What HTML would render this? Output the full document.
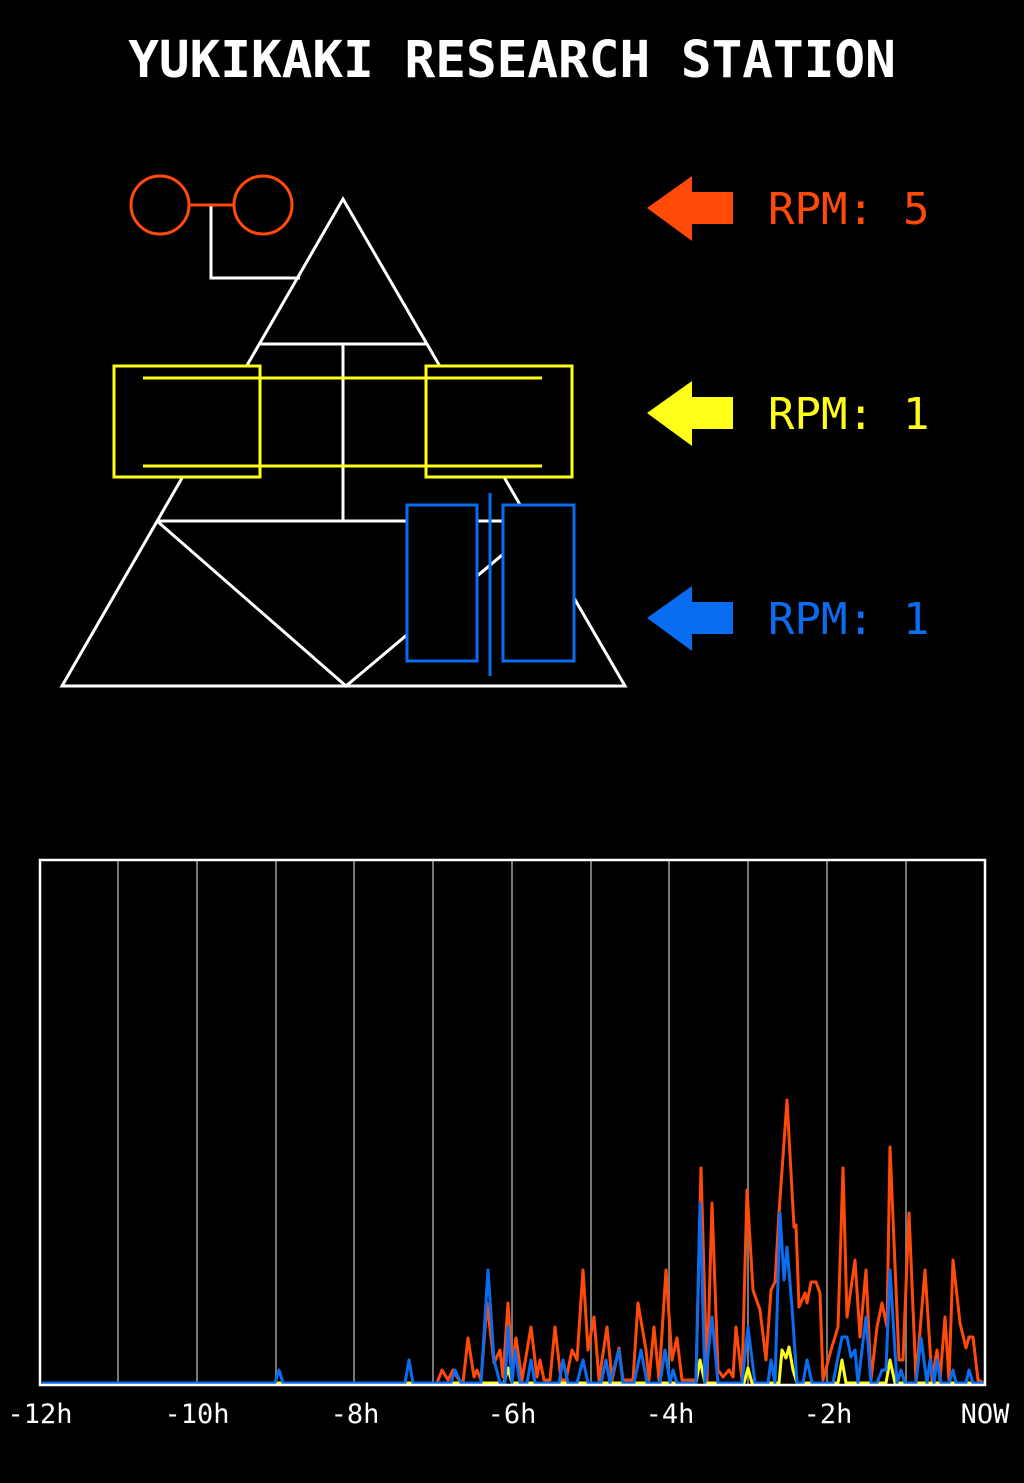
<!DOCTYPE html>
<html><head><meta charset="utf-8"><style>
html,body{margin:0;padding:0;background:#000;}
body{width:1024px;height:1483px;overflow:hidden;}
svg{display:block}
</style></head><body>
<svg width="1024" height="1483" viewBox="0 0 1024 1483" xmlns="http://www.w3.org/2000/svg">
<rect width="1024" height="1483" fill="#000"/>
<text x="512" y="77" fill="#fff" font-family="DejaVu Sans Mono, Liberation Mono, monospace" font-weight="bold" font-size="51" text-anchor="middle">YUKIKAKI RESEARCH STATION</text>

<g stroke="#fff" stroke-width="3" fill="none">
<polygon points="343,199 62,686 625,686"/>
<line x1="259" y1="344" x2="427" y2="344"/>
<line x1="343" y1="344" x2="343" y2="521"/>
<line x1="157" y1="521" x2="530" y2="521"/>
<polyline points="157,521 346,686 520,540"/>
<polyline points="211,205 211,278 300,278"/>
</g>
<g stroke="#ff4a0a" stroke-width="3" fill="none">
<circle cx="160" cy="205" r="29"/>
<circle cx="263" cy="205" r="29"/>
<line x1="189" y1="205" x2="234" y2="205"/>
</g>
<g stroke="#ffff1a" stroke-width="3">
<rect x="114" y="366" width="146" height="111" fill="#000"/>
<rect x="426" y="366" width="146" height="111" fill="#000"/>
</g>
<line x1="343" y1="366" x2="343" y2="477" stroke="#fff" stroke-width="3"/>
<g stroke="#ffff1a" stroke-width="3">
<line x1="143" y1="378" x2="542" y2="378"/>
<line x1="143" y1="466" x2="542" y2="466"/>
</g>
<g stroke="#0a6cf0" stroke-width="3">
<rect x="407" y="505" width="70" height="156" fill="#000"/>
<rect x="503" y="505" width="71" height="156" fill="#000"/>
<line x1="490" y1="493" x2="490" y2="676"/>
</g>

<polygon points="647,208 692,176 692,192 733,192 733,224 692,224 692,241" fill="#ff4a0a"/>
<polygon points="647,413 692,381 692,397 733,397 733,429 692,429 692,446" fill="#ffff1a"/>
<polygon points="647,618 692,586 692,602 733,602 733,634 692,634 692,651" fill="#0a6cf0"/>
<g font-family="DejaVu Sans Mono, Liberation Mono, monospace" font-size="44">
<text y="224" fill="#ff4a0a"><tspan x="768">RPM:</tspan><tspan x="903">5</tspan></text>
<text y="429" fill="#ffff1a"><tspan x="768">RPM:</tspan><tspan x="903">1</tspan></text>
<text y="634" fill="#0a6cf0"><tspan x="768">RPM:</tspan><tspan x="903">1</tspan></text>
</g>

<g stroke="#777" stroke-width="2">
<line x1="118" y1="860" x2="118" y2="1384"/>
<line x1="197" y1="860" x2="197" y2="1384"/>
<line x1="276" y1="860" x2="276" y2="1384"/>
<line x1="354" y1="860" x2="354" y2="1384"/>
<line x1="433" y1="860" x2="433" y2="1384"/>
<line x1="512" y1="860" x2="512" y2="1384"/>
<line x1="591" y1="860" x2="591" y2="1384"/>
<line x1="669" y1="860" x2="669" y2="1384"/>
<line x1="748" y1="860" x2="748" y2="1384"/>
<line x1="827" y1="860" x2="827" y2="1384"/>
<line x1="906" y1="860" x2="906" y2="1384"/>
</g>

<polyline fill="none" stroke="#ff4a0a" stroke-width="3" stroke-linejoin="round" points="42,1383 437,1383 442,1370 448,1380 453,1370 459,1380 463,1383 468,1338 474,1377 477,1370 481,1380 487,1303 494,1363 500,1350 503,1377 508,1303 512,1367 516,1338 522,1380 531,1327 537,1377 540,1360 544,1380 550,1380 555,1327 561,1380 566,1380 572,1350 577,1360 583,1270 588,1350 594,1317 599,1380 607,1327 612,1380 619,1348 623,1380 633,1380 638,1303 646,1350 649,1380 654,1327 659,1380 666,1270 672,1360 677,1338 682,1380 696,1380 701,1168 707,1380 712,1203 718,1370 723,1377 729,1370 733,1377 736,1327 742,1380 747,1190 753,1290 760,1310 766,1360 771,1290 775,1282 779,1213 787,1100 794,1227 796,1225 799,1307 805,1293 807,1303 811,1282 816,1282 820,1293 823,1380 831,1350 838,1327 843,1168 847,1317 855,1260 860,1337 866,1270 871,1380 877,1327 882,1303 887,1327 890,1147 899,1360 903,1360 909,1213 916,1380 925,1270 932,1380 937,1350 940,1380 945,1317 949,1380 953,1260 960,1323 966,1348 969,1337 973,1337 978,1380 984,1383"/>
<polyline fill="none" stroke="#ffff1a" stroke-width="3" stroke-linejoin="round" points="42,1383 504,1383 508,1368 512,1383 696,1383 700,1360 705,1383 744,1383 748,1368 752,1383 779,1383 782,1350 786,1358 789,1347 793,1370 797,1383 838,1383 842,1360 846,1383 886,1383 890,1360 895,1383 984,1383"/>
<polyline fill="none" stroke="#0a6cf0" stroke-width="3" stroke-linejoin="round" points="42,1383 275,1383 279,1370 283,1383 405,1383 409,1360 413,1383 451,1383 455,1370 461,1383 481,1383 488,1270 494,1360 500,1383 505,1383 508,1327 512,1383 515,1350 520,1383 527,1383 531,1360 535,1383 559,1383 563,1360 568,1383 577,1383 583,1360 588,1383 601,1383 606,1360 610,1383 619,1350 623,1383 634,1383 641,1350 647,1383 660,1383 665,1350 670,1383 673,1370 677,1383 696,1383 700,1203 705,1383 712,1317 718,1383 742,1383 748,1327 755,1383 768,1383 771,1360 775,1383 780,1213 784,1280 787,1247 792,1307 797,1383 803,1383 807,1360 812,1383 833,1383 842,1337 847,1337 851,1357 855,1350 858,1383 866,1317 871,1383 877,1383 882,1370 886,1370 890,1270 897,1383 901,1370 905,1383 916,1383 921,1338 927,1383 930,1360 934,1383 937,1360 941,1383 949,1383 953,1370 956,1383 966,1383 969,1370 973,1383 984,1383"/>

<rect x="40" y="860" width="945" height="525" fill="none" stroke="#fff" stroke-width="2.5"/>

<g fill="#fff" font-family="DejaVu Sans Mono, Liberation Mono, monospace" font-size="27" text-anchor="middle">
<text x="40" y="1423">-12h</text>
<text x="197" y="1423">-10h</text>
<text x="355" y="1423">-8h</text>
<text x="512" y="1423">-6h</text>
<text x="670" y="1423">-4h</text>
<text x="828" y="1423">-2h</text>
<text x="985" y="1423">NOW</text>
</g>
</svg>
</body></html>
